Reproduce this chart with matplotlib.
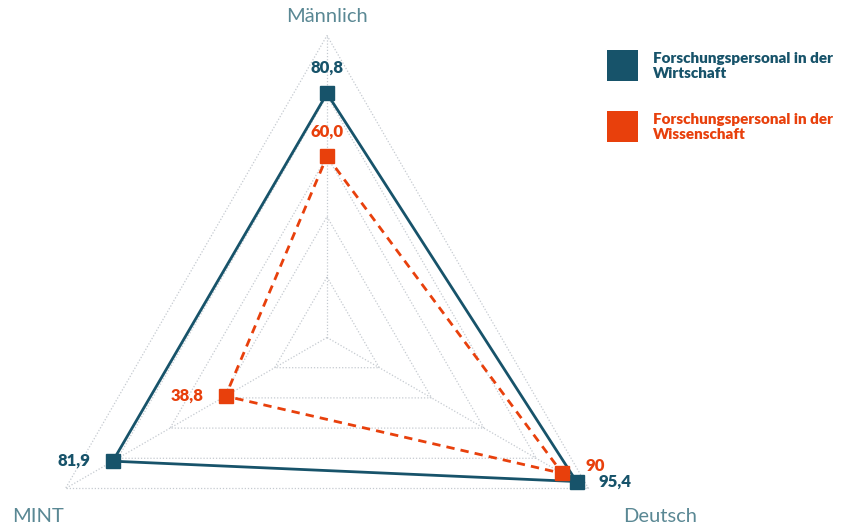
import numpy as np
import matplotlib
matplotlib.use("Agg")
import matplotlib.pyplot as plt
from matplotlib.patches import Rectangle

plt.rcParams['font.family'] = ['Lato', 'DejaVu Sans']

categories = ["Männlich", "Deutsch", "MINT"]
series_names = ["Forschungspersonal in der\nWirtschaft", "Forschungspersonal in der\nWissenschaft"]
wirtschaft = [80.8, 95.4, 81.9]
wissenschaft = [60.0, 90.0, 38.8]
wirtschaft_labels = ["80,8", "95,4", "81,9"]
wissenschaft_labels = ["60,0", "90", "38,8"]
grid_levels = [20, 40, 60, 80, 100]

TEAL = "#17536a"
ORANGE = "#e8400c"
GRID = "#c5cad0"
AXLAB = "#5a8894"

W, H = 845, 526
fig = plt.figure(figsize=(W / 100, H / 100), dpi=100)
cx, cy, R = 327, 337.5, 302
ax = fig.add_axes([(cx - R) / W, (H - cy - R) / H, 2 * R / W, 2 * R / H], projection='polar')
ax.set_theta_offset(np.pi / 2)
ax.set_theta_direction(-1)
ax.set_ylim(0, 100)
ax.grid(False)
ax.spines['polar'].set_visible(False)
ax.set_xticks([])
ax.set_yticks([])
ax.patch.set_alpha(0)

theta = np.linspace(0, 2 * np.pi, len(categories), endpoint=False)
tc = np.append(theta, theta[0])

for lv in grid_levels:
    ax.plot(tc, [lv] * len(tc), color=GRID, lw=0.9, ls=(0, (1, 1.5)), zorder=1, clip_on=False)
for t in theta:
    ax.plot([t, t], [0, grid_levels[-1]], color=GRID, lw=0.9, ls=(0, (1, 1.5)), zorder=1, clip_on=False)

w = np.append(wirtschaft, wirtschaft[0])
s = np.append(wissenschaft, wissenschaft[0])
ax.plot(tc, w, color=TEAL, lw=2.0, zorder=3, clip_on=False, solid_joinstyle='miter')
ax.plot(theta, wirtschaft, ls='none', marker='s', ms=9.5, color=TEAL, zorder=5, clip_on=False)
ax.plot(tc, s, color=ORANGE, lw=2.0, ls=(0, (3, 2.2)), zorder=4, clip_on=False)
ax.plot(theta, wissenschaft, ls='none', marker='s', ms=9.5, color=ORANGE, zorder=5, clip_on=False)

px = 0.72  # points per pixel
lab_kw = dict(textcoords='offset points', fontsize=12, fontweight='heavy', va='center', annotation_clip=False)
# Männlich
ax.annotate(wirtschaft_labels[0], (theta[0], wirtschaft[0]), xytext=(0, 26 * px), ha='center', color=TEAL, **lab_kw)
ax.annotate(wissenschaft_labels[0], (theta[0], wissenschaft[0]), xytext=(0, 25 * px), ha='center', color=ORANGE, **lab_kw)
# Deutsch
ax.annotate(wirtschaft_labels[1], (theta[1], wirtschaft[1]), xytext=(22 * px, 0), ha='left', color=TEAL, **lab_kw)
ax.annotate(wissenschaft_labels[1], (theta[1], wissenschaft[1]), xytext=(23 * px, 7 * px), ha='left', color=ORANGE, **lab_kw)
# MINT
ax.annotate(wirtschaft_labels[2], (theta[2], wirtschaft[2]), xytext=(-22 * px, 0), ha='right', color=TEAL, **lab_kw)
ax.annotate(wissenschaft_labels[2], (theta[2], wissenschaft[2]), xytext=(-22 * px, 0), ha='right', color=ORANGE, **lab_kw)

# axis labels
fig.text(327 / W, 1 - 17 / H, categories[0], ha='center', va='center', fontsize=14.5, fontweight='normal', color=AXLAB)
fig.text(697 / W, 1 - 516 / H, categories[1], ha='right', va='center', fontsize=14.5, fontweight='normal', color=AXLAB)
fig.text(12 / W, 1 - 516 / H, categories[2], ha='left', va='center', fontsize=14.5, fontweight='normal', color=AXLAB)

# legend
for (y0, col, name) in [(50, TEAL, series_names[0]), (111, ORANGE, series_names[1])]:
    fig.add_artist(Rectangle((607 / W, 1 - (y0 + 31) / H), 31 / W, 31 / H, transform=fig.transFigure,
                             color=col, lw=0))
    fig.text(653 / W, 1 - (y0 + 16) / H, name, ha='left', va='center', fontsize=11, fontweight='heavy',
             color=col, linespacing=1.15)

fig.savefig("out.png", dpi=100)
